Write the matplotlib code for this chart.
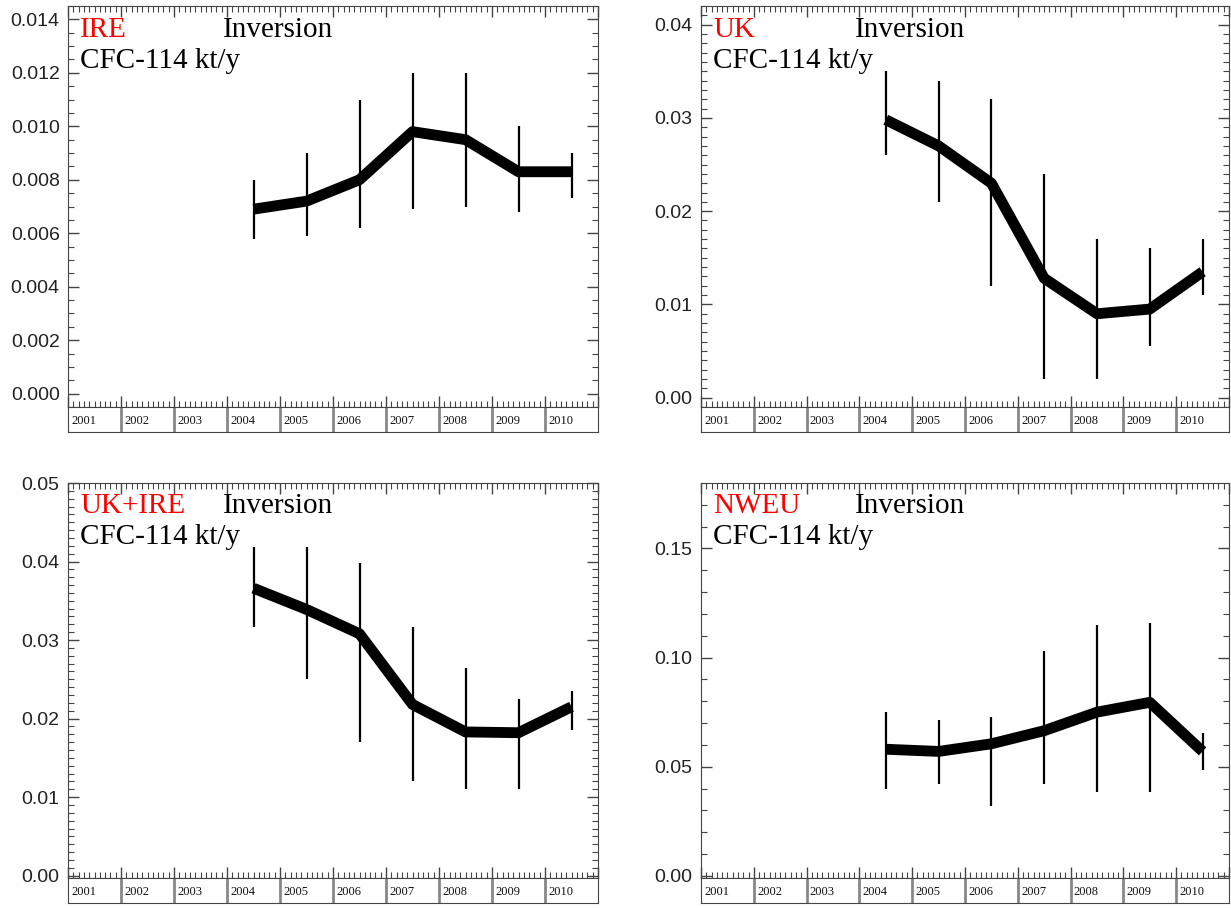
import matplotlib
matplotlib.use("Agg")
from matplotlib import pyplot as plt
from matplotlib.ticker import MultipleLocator, FixedLocator, FormatStrFormatter

# x axis: one box per year, estimates only for 2004-2010
years = [2001, 2002, 2003, 2004, 2005, 2006, 2007, 2008, 2009, 2010]
data_years = [2004, 2005, 2006, 2007, 2008, 2009, 2010]

ire_mean = [0.0069, 0.0072, 0.0080, 0.0098, 0.0095, 0.0083, 0.0083]
ire_low = [0.0058, 0.0059, 0.0062, 0.0069, 0.0070, 0.0068, 0.0073]
ire_high = [0.0080, 0.0090, 0.0110, 0.0120, 0.0120, 0.0100, 0.0090]

uk_mean = [0.0298, 0.0270, 0.0230, 0.0128, 0.0090, 0.0095, 0.0135]
uk_low = [0.0260, 0.0210, 0.0120, 0.0020, 0.0020, 0.0055, 0.0110]
uk_high = [0.0350, 0.0340, 0.0320, 0.0240, 0.0170, 0.0160, 0.0170]

ukire_mean = [0.0366, 0.0339, 0.0308, 0.0218, 0.0183, 0.0182, 0.0215]
ukire_low = [0.0316, 0.0250, 0.0170, 0.0120, 0.0110, 0.0110, 0.0185]
ukire_high = [0.0418, 0.0418, 0.0398, 0.0316, 0.0265, 0.0225, 0.0235]

nweu_mean = [0.0580, 0.0570, 0.0605, 0.0665, 0.0750, 0.0795, 0.0570]
nweu_low = [0.0400, 0.0420, 0.0320, 0.0420, 0.0385, 0.0385, 0.0485]
nweu_high = [0.0750, 0.0712, 0.0730, 0.1030, 0.1150, 0.1160, 0.0656]

W, H = 1231, 908
SERIF = ['Liberation Serif', 'DejaVu Serif']
SANS = ['Liberation Sans', 'DejaVu Sans']
SPINE = '#444444'


def px_box(left, top, right, bottom):
    """pixel box -> figure fraction rect"""
    return [left / W, 1 - bottom / H, (right - left) / W, (bottom - top) / H]


def draw_panel(fig, rect, strip_rect, region, mean, low, high, ylim, major, minor, fmt):
    ax = fig.add_axes(rect)
    ax.vlines(data_years, low, high, color='k', lw=1.6)
    ax.plot(data_years, mean, color='k', lw=7.8, solid_joinstyle='round', solid_capstyle='butt')
    ax.set_xlim(2000.5, 2010.5)
    ax.set_ylim(ylim)

    # ticks like IDL: inside, on all four sides
    edges = [y + 0.5 for y in range(2000, 2011)]
    ax.xaxis.set_major_locator(FixedLocator(edges))
    ax.xaxis.set_minor_locator(MultipleLocator(0.1))
    ax.yaxis.set_major_locator(MultipleLocator(major))
    ax.yaxis.set_minor_locator(MultipleLocator(minor))
    ax.yaxis.set_major_formatter(FormatStrFormatter(fmt))
    ax.tick_params(which='both', direction='in', top=True, right=True, colors=SPINE, labelcolor='#222222')
    ax.tick_params(which='major', length=8, width=1)
    ax.tick_params(which='minor', length=4, width=0.8)
    ax.tick_params(axis='x', labelbottom=False)
    ax.tick_params(axis='y', labelsize=14, pad=6)
    for lab in ax.get_yticklabels():
        lab.set_family(SANS)
    for sp in ax.spines.values():
        sp.set_color(SPINE)

    ax.text(0.023, 0.923, region, color='red', transform=ax.transAxes, family=SERIF, fontsize=21)
    ax.text(0.292, 0.923, 'Inversion', color='k', transform=ax.transAxes, family=SERIF, fontsize=21)
    ax.text(0.023, 0.845, 'CFC-114 kt/y', color='k', transform=ax.transAxes, family=SERIF, fontsize=21)

    # year boxes under the plot
    sx = fig.add_axes(strip_rect)
    sx.set_xlim(2000.5, 2010.5)
    sx.set_ylim(0, 1)
    sx.set_xticks([])
    sx.set_yticks([])
    for sp in sx.spines.values():
        sp.set_color(SPINE)
    sx.vlines(edges[1:-1], 0, 1, color='#888888', lw=2)
    for yr in years:
        sx.text(yr - 0.44, 0.45, str(yr), ha='left', va='center', family=SERIF, fontsize=9, color='#111111')


fig = plt.figure(figsize=(W / 100, H / 100), dpi=100)

draw_panel(fig, px_box(68, 6, 598, 407), px_box(68, 407, 598, 432), 'IRE',
           ire_mean, ire_low, ire_high, (-0.0005, 0.0145), 0.002, 0.0005, '%.3f')
draw_panel(fig, px_box(701, 6, 1229, 407), px_box(701, 407, 1229, 432), 'UK',
           uk_mean, uk_low, uk_high, (-0.001, 0.042), 0.01, 0.001, '%.2f')
draw_panel(fig, px_box(68, 483, 598, 878), px_box(68, 878, 598, 903), 'UK+IRE',
           ukire_mean, ukire_low, ukire_high, (-0.0003, 0.05), 0.01, 0.001, '%.2f')
draw_panel(fig, px_box(701, 483, 1229, 878), px_box(701, 878, 1229, 903), 'NWEU',
           nweu_mean, nweu_low, nweu_high, (-0.001, 0.18), 0.05, 0.01, '%.2f')

fig.savefig('out.png', dpi=100)
